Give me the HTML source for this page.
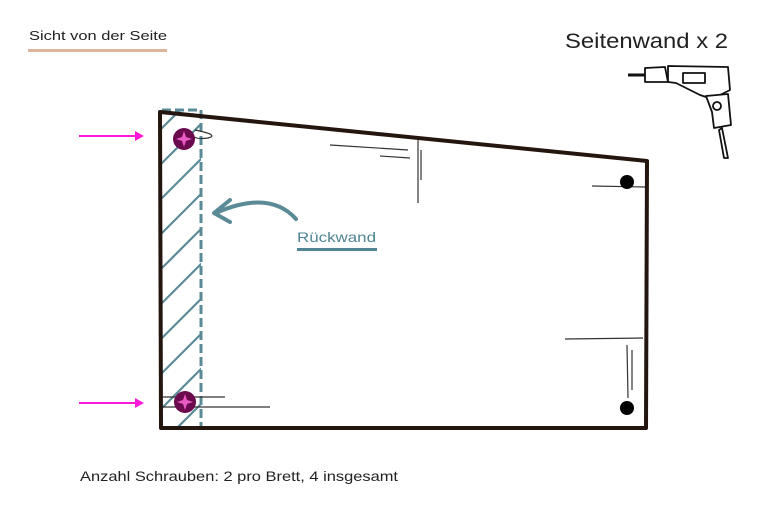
<!DOCTYPE html>
<html><head><meta charset="utf-8"><style>
body{margin:0;width:780px;height:517px;background:#fff;overflow:hidden;font-family:"Liberation Sans",sans-serif;}
</style></head><body>
<svg width="780" height="517" xmlns="http://www.w3.org/2000/svg" style="position:absolute;left:0;top:0">
<defs>
<clipPath id="c"><rect x="161" y="110" width="40" height="316"/></clipPath>
</defs>
<text x="29" y="40" font-size="13" fill="#222" font-family="Liberation Sans" textLength="138" lengthAdjust="spacingAndGlyphs">Sicht von der Seite</text>
<rect x="28" y="49" width="139" height="3" fill="#e0b49a"/>
<text x="565" y="48" font-size="21" fill="#222" font-family="Liberation Sans" textLength="163" lengthAdjust="spacingAndGlyphs">Seitenwand x 2</text>
<g clip-path="url(#c)" stroke="#5a8a96" stroke-width="2.2">
<line x1="150" y1="140" x2="210" y2="80"/><line x1="150" y1="175" x2="210" y2="115"/>
<line x1="150" y1="210" x2="210" y2="150"/><line x1="150" y1="245" x2="210" y2="185"/>
<line x1="150" y1="280" x2="210" y2="220"/><line x1="150" y1="315" x2="210" y2="255"/>
<line x1="150" y1="350" x2="210" y2="290"/><line x1="150" y1="385" x2="210" y2="325"/>
<line x1="150" y1="420" x2="210" y2="360"/><line x1="150" y1="455" x2="210" y2="395"/>
<line x1="150" y1="490" x2="210" y2="430"/>
</g>
<line x1="201" y1="110" x2="201" y2="428" stroke="#5a8a96" stroke-width="3" stroke-dasharray="9,4"/>
<line x1="162" y1="110" x2="201" y2="110" stroke="#5a8a96" stroke-width="3" stroke-dasharray="9,4"/>
<polygon points="160,112 647,161 646,428 161,428" fill="none" stroke="#24150f" stroke-width="4" stroke-linejoin="round"/>
<g stroke="#333" stroke-width="1.2" fill="none">
<line x1="330" y1="145" x2="408" y2="150"/><line x1="380" y1="156" x2="410" y2="158"/>
<line x1="418" y1="140" x2="418" y2="203"/><line x1="421" y1="150" x2="421" y2="180"/>
<line x1="592" y1="186" x2="645" y2="187"/><line x1="565" y1="339" x2="643" y2="338"/>
<line x1="627" y1="345" x2="628" y2="398"/><line x1="632" y1="350" x2="632" y2="390"/>
<line x1="163" y1="397" x2="225" y2="397"/><line x1="163" y1="407" x2="270" y2="407"/>
<path d="M195 130 Q220 135 208 138 Q195 140 192 135"/>
</g>
<circle cx="184" cy="139" r="11" fill="#6b0a4c"/>
<path d="M184 131 L186 137 L192 139 L186 141 L184 147 L182 141 L176 139 L182 137Z" fill="#e85bc4"/>
<circle cx="185" cy="402" r="11" fill="#6b0a4c"/>
<path d="M185 394 L187 400 L193 402 L187 404 L185 410 L183 404 L177 402 L183 400Z" fill="#e85bc4"/>
<circle cx="627" cy="182" r="7" fill="#000"/>
<circle cx="627" cy="408" r="7" fill="#000"/>
<line x1="79" y1="136" x2="135" y2="136" stroke="#ff1ad9" stroke-width="2"/>
<polygon points="135,131 144,136 135,141" fill="#ff1ad9"/>
<line x1="79" y1="403" x2="135" y2="403" stroke="#ff1ad9" stroke-width="2"/>
<polygon points="135,398 144,403 135,408" fill="#ff1ad9"/>
<path d="M296 219 Q270 190 218 212" fill="none" stroke="#5a8a96" stroke-width="4" stroke-linecap="round"/>
<path d="M230 200 L214 213 L230 222" fill="none" stroke="#5a8a96" stroke-width="4" stroke-linecap="round" stroke-linejoin="round"/>
<text x="297" y="242" font-size="14" fill="#4f8594" font-family="Liberation Sans" textLength="79" lengthAdjust="spacingAndGlyphs">Rückwand</text>
<rect x="297" y="248" width="80" height="3" fill="#4f8594"/>
<text x="80" y="481" font-size="14" fill="#222" font-family="Liberation Sans" textLength="318" lengthAdjust="spacingAndGlyphs">Anzahl Schrauben: 2 pro Brett, 4 insgesamt</text>
<g stroke="#111" stroke-width="1.8" fill="#fff" stroke-linejoin="round">
<line x1="628" y1="75" x2="645" y2="75" stroke-width="3"/>
<path d="M645 68 L665 67 L668 82 L645 82Z"/>
<path d="M668 66 L728 67 L730 90 L720 95 L715 100 L700 95 L690 90 L676 83 L668 82Z"/>
<path d="M706 96 L728 94 L731 125 L714 128 L712 112Z"/>
<circle cx="717" cy="106" r="4"/>
<path d="M722 128 L728 158 L724 158 L719 130Z"/>
<rect x="683" y="73" width="22" height="10"/>
</g>
</svg>
</body></html>
